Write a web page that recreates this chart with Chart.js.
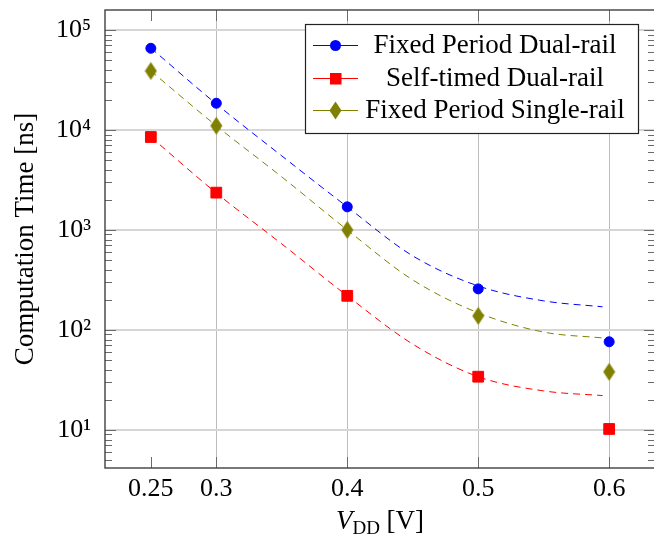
<!DOCTYPE html>
<html>
<head>
<meta charset="utf-8">
<script src="https://cdn.jsdelivr.net/npm/chart.js@4/dist/chart.umd.min.js"></script>
<style>
  html, body { margin: 0; padding: 0; background: #fff; overflow: hidden; width: 654px; height: 540px; }
  #wrap { position: relative; width: 658px; height: 540px; }
  #xtitle { position: absolute; left: 0; width: 760px; top: 505px; text-align: center;
            font-family: "Liberation Serif", serif; font-size: 27px; color: #000; line-height: 30px; }
  #xtitle sub { font-size: 19px; font-style: normal; vertical-align: -5px; line-height: 0; }
</style>
</head>
<body>
<div id="wrap">
  <canvas id="c" width="658" height="540"></canvas>
  <div id="xtitle"><i>V</i><sub>DD</sub>&nbsp;[V]</div>
</div>
<script>
// ---- data ----
const voltages = [0.25, 0.3, 0.4, 0.5, 0.6];
const fixedDual = [65600, 18500, 1700, 257, 76];
const selfTimedDual = [8500, 2360, 219, 34, 10.2];
const fixedSingle = [38900, 11000, 1000, 138, 38];

// fitted trend curves (dashed)
const fitVoltages = [0.25, 0.3, 0.35, 0.4, 0.45, 0.5, 0.55, 0.595];
const fitFixedDual = [66000, 18200, 5500, 1700, 550, 275, 195, 170];
const fitSelfTimedDual = [8500, 2340, 724, 219, 72, 34, 24.5, 22];
const fitFixedSingle = [38900, 11000, 3390, 1000, 316, 148, 95, 83];

const seriesLabels = ['Fixed Period Dual-rail', 'Self-timed Dual-rail', 'Fixed Period Single-rail'];

const xTickValues = [0.25, 0.3, 0.4, 0.5, 0.6];
const xTickLabels = ['0.25', '0.3', '0.4', '0.5', '0.6'];
const yTickValues = [10, 100, 1000, 10000, 100000];
const yTickLabels = ['10¹', '10²', '10³', '10⁴', '10⁵'];

// ---- styles ----
const BLUE = '#0000ff', RED = '#ff0000', OLIVE = '#808000';
const FONT = '"Liberation Serif", "Times New Roman", serif';

function makeDiamond(color) {
  const c = document.createElement('canvas');
  c.width = 13; c.height = 19;
  const g = c.getContext('2d');
  g.fillStyle = color;
  g.beginPath();
  g.moveTo(6.5, 0.5); g.lineTo(12.5, 9.5); g.lineTo(6.5, 18.5); g.lineTo(0.5, 9.5);
  g.closePath(); g.fill();
  return c;
}
const diamond = makeDiamond(OLIVE);

const pts = (xs, ys) => xs.map((x, i) => ({x: x, y: ys[i]}));

const markerColors = [BLUE, RED, OLIVE];

const datasets = [
  {label: seriesLabels[0], data: pts(voltages, fixedDual), showLine: false,
   pointStyle: 'circle', pointRadius: 5, pointBackgroundColor: BLUE, pointBorderColor: BLUE, pointBorderWidth: 1},
  {label: seriesLabels[1], data: pts(voltages, selfTimedDual), showLine: false,
   pointStyle: 'rect', pointRadius: 7.6, pointBackgroundColor: RED, pointBorderColor: RED, pointBorderWidth: 1},
  {label: seriesLabels[2], data: pts(voltages, fixedSingle), showLine: false,
   pointStyle: diamond, pointRadius: 9, pointBackgroundColor: OLIVE, pointBorderColor: OLIVE},
  {label: 'fit1', data: pts(fitVoltages, fitFixedDual), showLine: true, borderColor: BLUE, borderWidth: 1,
   borderDash: [7, 5], pointRadius: 0, cubicInterpolationMode: 'monotone', fill: false},
  {label: 'fit2', data: pts(fitVoltages, fitSelfTimedDual), showLine: true, borderColor: RED, borderWidth: 1,
   borderDash: [7, 5], pointRadius: 0, cubicInterpolationMode: 'monotone', fill: false},
  {label: 'fit3', data: pts(fitVoltages, fitFixedSingle), showLine: true, borderColor: OLIVE, borderWidth: 1,
   borderDash: [7, 5], pointRadius: 0, cubicInterpolationMode: 'monotone', fill: false}
];

// minor tick values for log axis
const yMinor = [];
for (let e = 0; e <= 5; e++) for (let m = 2; m <= 9; m++) yMinor.push(m * Math.pow(10, e));

const framePlugin = {
  id: 'frame',
  afterDatasetsDraw(chart) {
    const {ctx, chartArea: a, scales} = chart;
    ctx.save();
    ctx.strokeStyle = '#6a6a6a';
    ctx.lineWidth = 1;
    ctx.beginPath();
    const ys = scales.y;
    yMinor.forEach(v => {
      const p = ys.getPixelForValue(v);
      if (p < a.top || p > a.bottom) return;
      const yy = Math.round(p) + 0.5;
      ctx.moveTo(a.left, yy); ctx.lineTo(a.left + 7, yy);
      ctx.moveTo(a.right, yy); ctx.lineTo(a.right - 7, yy);
    });
    yTickValues.forEach(v => {
      const yy = Math.round(ys.getPixelForValue(v)) + 0.5;
      ctx.moveTo(a.left, yy); ctx.lineTo(a.left + 11, yy);
      ctx.moveTo(a.right, yy); ctx.lineTo(a.right - 11, yy);
    });
    xTickValues.forEach(v => {
      const xx = Math.round(scales.x.getPixelForValue(v)) + 0.5;
      ctx.moveTo(xx, a.bottom); ctx.lineTo(xx, a.bottom - 11);
      ctx.moveTo(xx, a.top); ctx.lineTo(xx, a.top + 11);
    });
    ctx.stroke();
    ctx.strokeStyle = '#404040';
    ctx.lineWidth = 1.4;
    ctx.strokeRect(a.left, a.top, a.right - a.left, a.bottom - a.top);
    ctx.restore();
  }
};

const legendPlugin = {
  id: 'boxLegend',
  afterDraw(chart) {
    const {ctx} = chart;
    const bx = 305, by = 24, bw = 333, bh = 109;
    ctx.save();
    ctx.fillStyle = '#fff';
    ctx.fillRect(bx, by, bw, bh);
    ctx.strokeStyle = '#222';
    ctx.lineWidth = 1.2;
    ctx.strokeRect(bx + 0.5, by + 0.5, bw, bh);
    const rows = [45, 78, 110];
    seriesLabels.forEach((lab, i) => {
      const y = rows[i];
      const col = markerColors[i];
      ctx.strokeStyle = col;
      ctx.lineWidth = 1;
      ctx.beginPath(); ctx.moveTo(313, y + 0.5); ctx.lineTo(358, y + 0.5); ctx.stroke();
      ctx.fillStyle = col;
      if (i === 0) {
        ctx.beginPath(); ctx.arc(335.5, y + 0.5, 5.5, 0, Math.PI * 2); ctx.fill();
      } else if (i === 1) {
        ctx.fillRect(330, y - 5, 11.5, 11.5);
      } else {
        ctx.drawImage(diamond, 335.5 - 6.5, y + 0.5 - 9.5);
      }
      ctx.fillStyle = '#000';
      ctx.font = '27px ' + FONT;
      ctx.textAlign = 'center';
      ctx.textBaseline = 'middle';
      ctx.fillText(lab, 495, y + 1);
    });
    ctx.restore();
  }
};

new Chart(document.getElementById('c'), {
  type: 'scatter',
  data: {datasets: datasets},
  options: {
    responsive: false,
    animation: false,
    layout: {autoPadding: false, padding: {top: 10, right: 3, left: 0, bottom: 0}},
    plugins: {legend: {display: false}, tooltip: {enabled: false}},
    scales: {
      x: {
        type: 'linear', min: 0.215, max: 0.635,
        afterBuildTicks: s => { s.ticks = xTickValues.map(v => ({value: v})); },
        afterFit: s => { s.height = 72; s.paddingLeft = 0; s.paddingRight = 0; },
        ticks: {
          autoSkip: false, maxRotation: 0, padding: 6, color: '#000',
          font: {family: FONT, size: 26},
          callback: v => { const i = xTickValues.indexOf(v); return i >= 0 ? xTickLabels[i] : ''; }
        },
        grid: {drawTicks: false, lineWidth: 1,
               color: c => (c.tick && c.tick.value === 0.25) ? 'rgba(0,0,0,0)' : '#bdbdbd'},
        border: {display: false}
      },
      y: {
        type: 'logarithmic', min: Math.pow(10, 0.618), max: Math.pow(10, 5.2),
        afterBuildTicks: s => { s.ticks = yTickValues.map(v => ({value: v, major: true})); },
        afterFit: s => { s.width = 105; s.paddingTop = 0; s.paddingBottom = 0; },
        ticks: {
          autoSkip: false, padding: 14, color: '#000',
          font: {family: FONT, size: 26},
          callback: v => { const i = yTickValues.indexOf(v); return i >= 0 ? yTickLabels[i] : ''; }
        },
        grid: {drawTicks: false, lineWidth: 2, color: '#d6d6d6'},
        border: {display: false},
        title: {display: true, text: 'Computation Time [ns]', color: '#000',
                font: {family: FONT, size: 27}, padding: {top: 10, bottom: 0}}
      }
    }
  },
  plugins: [framePlugin, legendPlugin]
});
</script>
</body>
</html>
